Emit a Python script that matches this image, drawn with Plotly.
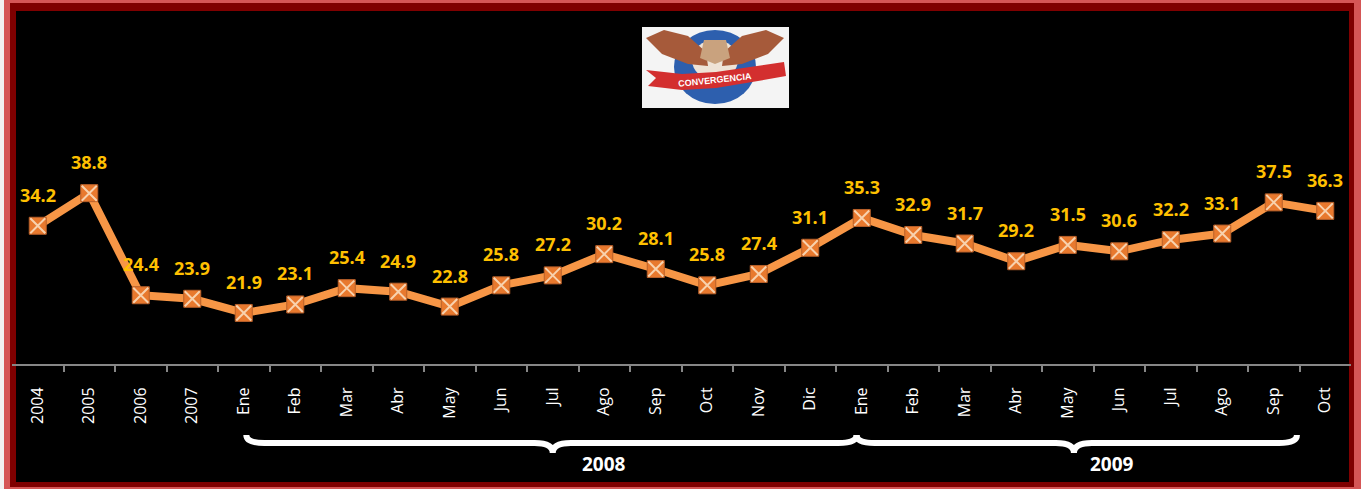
import plotly.graph_objects as go

# ---- data ----
periods = ["2004", "2005", "2006", "2007",
           "Ene", "Feb", "Mar", "Abr", "May", "Jun", "Jul", "Ago", "Sep", "Oct", "Nov", "Dic",
           "Ene", "Feb", "Mar", "Abr", "May", "Jun", "Jul", "Ago", "Sep", "Oct"]
values = [34.2, 38.8, 24.4, 23.9,
          21.9, 23.1, 25.4, 24.9, 22.8, 25.8, 27.2, 30.2, 28.1, 25.8, 27.4, 31.1,
          35.3, 32.9, 31.7, 29.2, 31.5, 30.6, 32.2, 33.1, 37.5, 36.3]
year_groups = ["2008", "2009"]

W, H = 1361, 489
L, R, T, B = 12, 10, 11, 125
PW, PH = W - L - R, H - T - B


def xp(px):
    return (px - L) / PW


def yp(py):
    return (H - B - py) / PH


idx = list(range(len(periods)))

fig = go.Figure()
fig.add_trace(go.Scatter(
    x=idx, y=values, mode="lines+markers",
    line=dict(color="#F79646", width=8),
    marker=dict(symbol="square", size=17, color="#E8792E",
                line=dict(color="#B8602A", width=1)),
    hoverinfo="skip", showlegend=False))
fig.add_trace(go.Scatter(
    x=idx, y=values, mode="markers",
    marker=dict(symbol="x-thin", size=15, color="#F8D2AE",
                line=dict(color="#F8D2AE", width=2)),
    hoverinfo="skip", showlegend=False))

annotations = []
for i, v in zip(idx, values):
    annotations.append(dict(x=i, y=v, xref="x", yref="y", text=f"{v:.1f}",
                            showarrow=False, yshift=31, yanchor="middle",
                            font=dict(family="Open Sans", size=18, color="#FFC000",
                                      weight="bold")))

shapes = []
# frame
shapes.append(dict(type="rect", xref="paper", yref="paper", layer="below",
                   x0=xp(0), x1=xp(4), y0=yp(0), y1=yp(H), fillcolor="#F2F2F2",
                   line=dict(width=0)))
shapes.append(dict(type="rect", xref="paper", yref="paper", layer="below",
                   x0=xp(10), x1=xp(1354), y0=yp(3), y1=yp(487), fillcolor="#7F0000",
                   line=dict(width=0)))
shapes.append(dict(type="rect", xref="paper", yref="paper", layer="below",
                   x0=xp(16), x1=xp(1349), y0=yp(11), y1=yp(482), fillcolor="#000000",
                   line=dict(width=0)))

# braces under the month groups
brace_ends = [(4.05, 15.9, 10.0), (15.9, 24.45, 20.12)]
ye, yb, yt = yp(435), yp(443), yp(453)
d = 0.35
for (a, b, m) in brace_ends:
    path = (f"M {a},{ye} Q {a},{yb} {a + d},{yb} L {m - d},{yb} "
            f"Q {m},{yb} {m},{yt} Q {m},{yb} {m + d},{yb} "
            f"L {b - d},{yb} Q {b},{yb} {b},{ye}")
    shapes.append(dict(type="path", xref="x", yref="paper", path=path,
                       line=dict(color="white", width=6)))

label_pos = [11.0, 20.86]
for g, xpos in zip(year_groups, label_pos):
    annotations.append(dict(x=xpos, y=yp(464), xref="x", yref="paper", text=g,
                            showarrow=False, yanchor="middle",
                            font=dict(family="Open Sans", size=19, color="white",
                                      weight="bold")))

# logo (approximation)
shapes.append(dict(type="rect", xref="paper", yref="paper",
                   x0=xp(642), x1=xp(789), y0=yp(27), y1=yp(108),
                   fillcolor="#F4F4F4", line=dict(width=0)))
shapes.append(dict(type="circle", xref="paper", yref="paper",
                   x0=xp(674), x1=xp(756), y0=yp(30), y1=yp(104),
                   fillcolor="#2D5FAE", line=dict(width=0)))
shapes.append(dict(type="circle", xref="paper", yref="paper",
                   x0=xp(692), x1=xp(738), y0=yp(40), y1=yp(80),
                   fillcolor="#EFE3D6", line=dict(width=0)))


def poly(pts, color):
    s = "M " + " L ".join(f"{xp(a)},{yp(b)}" for a, b in pts) + " Z"
    return dict(type="path", xref="paper", yref="paper", path=s,
                fillcolor=color, line=dict(width=0))


lw = [(646, 38), (664, 30), (688, 36), (706, 52), (708, 66), (688, 64), (662, 54)]
shapes.append(poly(lw, "#A65A3A"))
shapes.append(poly([(2 * 715 - a, b) for a, b in lw], "#A65A3A"))
shapes.append(poly([(704, 40), (726, 40), (730, 58), (715, 64), (700, 58)], "#C9A27E"))
rib = [(646, 70), (682, 74), (716, 72), (750, 67), (784, 62), (786, 76),
       (752, 82), (716, 88), (682, 90), (648, 86), (656, 78)]
shapes.append(poly(rib, "#D32F2F"))
annotations.append(dict(x=xp(715), y=yp(80), xref="paper", yref="paper",
                        text="CONVERGENCIA", showarrow=False, textangle=-6,
                        yanchor="middle", xanchor="center",
                        font=dict(family="Liberation Sans", size=9, color="white",
                                  weight="bold")))

fig.update_layout(
    width=W, height=H,
    margin=dict(l=L, r=R, t=T, b=B, pad=0),
    paper_bgcolor="#D55656",
    plot_bgcolor="rgba(0,0,0,0)",
    showlegend=False,
    shapes=shapes,
    annotations=annotations,
    xaxis=dict(range=[-0.5, len(periods) - 0.5], tickmode="array",
               tickvals=idx, ticktext=periods, tickangle=-90, ticks="",
               ticklabelstandoff=15,
               tickfont=dict(family="Open Sans", size=16, color="white"),
               showgrid=False, zeroline=False, showline=True,
               linecolor="#868686", linewidth=2,
               minor=dict(tickmode="array", tickvals=[i + 0.5 for i in idx[:-1]],
                          ticks="outside", ticklen=6, tickcolor="#868686",
                          tickwidth=1.5, showgrid=False)),
    yaxis=dict(range=[14.7, 64.5], visible=False, showgrid=False, zeroline=False),
)

fig.write_html("out.html", config={"displayModeBar": False},
               post_script="document.body.style.margin='0';document.body.style.overflow='hidden';")
